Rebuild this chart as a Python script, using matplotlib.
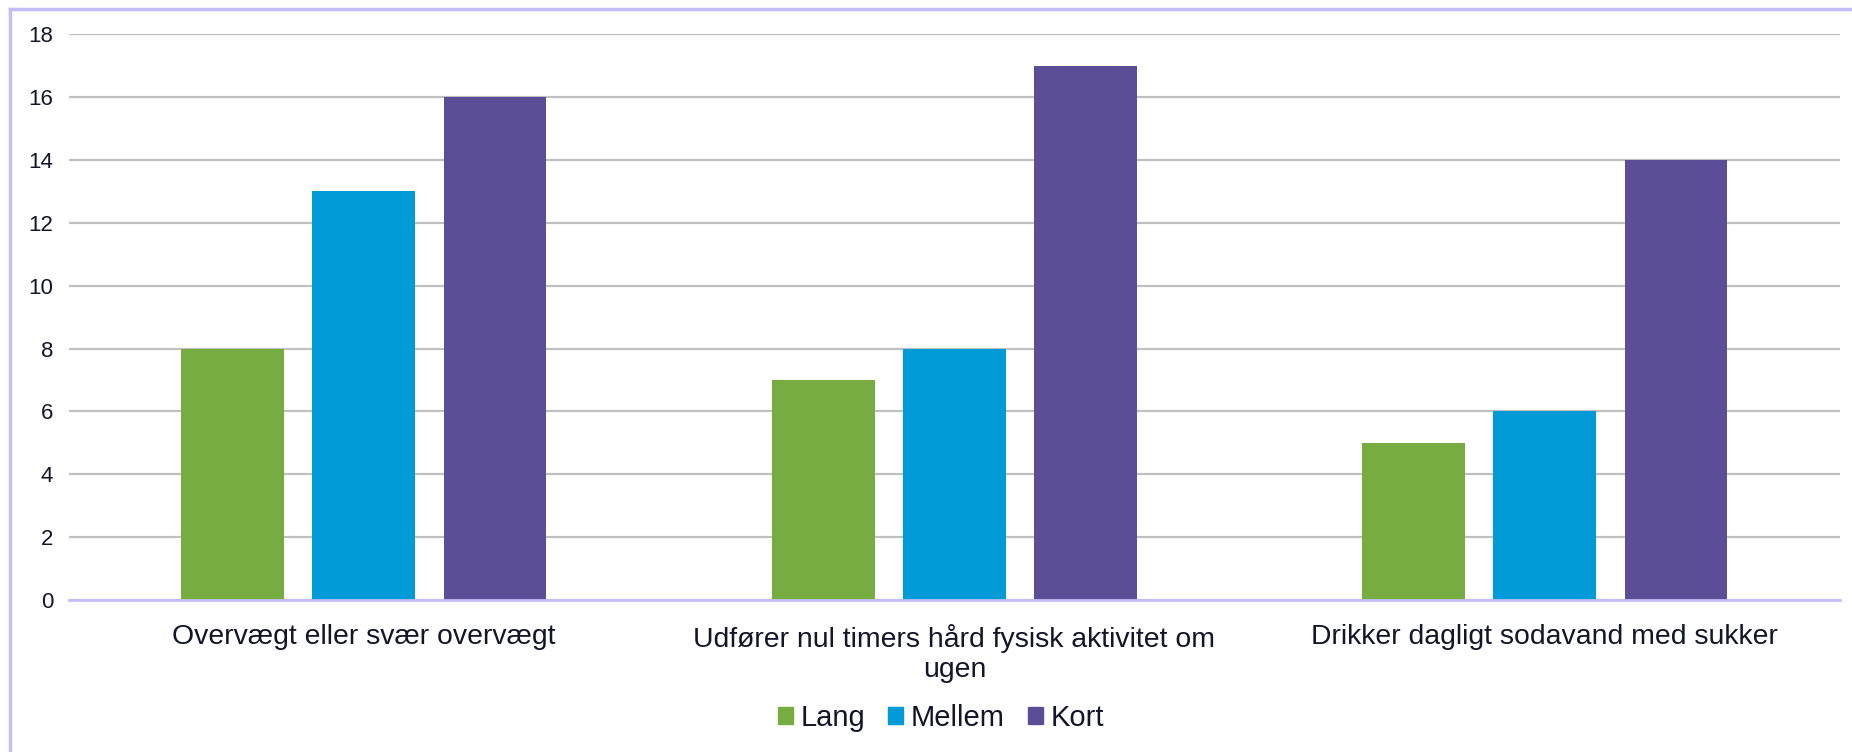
import matplotlib.pyplot as plt
import matplotlib.patches as mpatches
import numpy as np

plt.rcParams['font.family'] = ['Liberation Sans', 'DejaVu Sans']

# Data
kategorier = ["Overvægt eller svær overvægt",
              "Udfører nul timers hård fysisk aktivitet om\nugen",
              "Drikker dagligt sodavand med sukker"]
serier = ["Lang", "Mellem", "Kort"]
lang = [8, 7, 5]
mellem = [13, 8, 6]
kort = [16, 17, 14]
y_ticks = [0, 2, 4, 6, 8, 10, 12, 14, 16, 18]

farver = ["#76AC40", "#009AD7", "#5B4E96"]
tekst_farve = "#14142a"
kant_farve = "#c4bdf7"

fig = plt.figure(figsize=(18.52, 7.52), dpi=100)
ax = fig.add_axes([0.037, 0.2021, 0.9566, 0.7523])

x = np.arange(len(kategorier))
bredde = 0.174
afstand = 0.222
for i, (navn, vaerdier) in enumerate(zip(serier, [lang, mellem, kort])):
    ax.bar(x + (i - 1) * afstand, vaerdier, bredde, color=farver[i], label=navn, zorder=3)

ax.set_xlim(-0.5, 2.5)
ax.set_ylim(0, 18)
ax.set_yticks(y_ticks)
ax.set_xticks(x)
ax.set_xticklabels(kategorier, fontsize=20.4, color=tekst_farve, linespacing=1.2)
ax.tick_params(axis='y', length=0, pad=11, labelsize=16, labelcolor=tekst_farve)
ax.tick_params(axis='x', length=0, pad=17)
ax.grid(axis='y', color='#c0c0c0', linewidth=1.6, zorder=0)
for s in ['top', 'right', 'left']:
    ax.spines[s].set_visible(False)
ax.spines['bottom'].set_color(kant_farve)
ax.spines['bottom'].set_linewidth(2)
ax.spines['bottom'].set_zorder(4)

handles = [mpatches.Patch(color=c, label=n) for c, n in zip(farver, serier)]
leg = fig.legend(handles=handles, loc='center', bbox_to_anchor=(0.508, 1 - 718 / 752), ncol=3,
                 frameon=False, fontsize=21, handlelength=0.52, handleheight=0.52,
                 handletextpad=0.25, columnspacing=0.8)
for t in leg.get_texts():
    t.set_color(tekst_farve)

# ramme om diagrammet
fig.add_artist(plt.Line2D([10 / 1852, 10 / 1852], [0, 1 - 9 / 752], color=kant_farve, lw=2.5))
fig.add_artist(plt.Line2D([10 / 1852, 1], [1 - 9 / 752, 1 - 9 / 752], color=kant_farve, lw=2.5))

fig.savefig("out.png", dpi=100)
